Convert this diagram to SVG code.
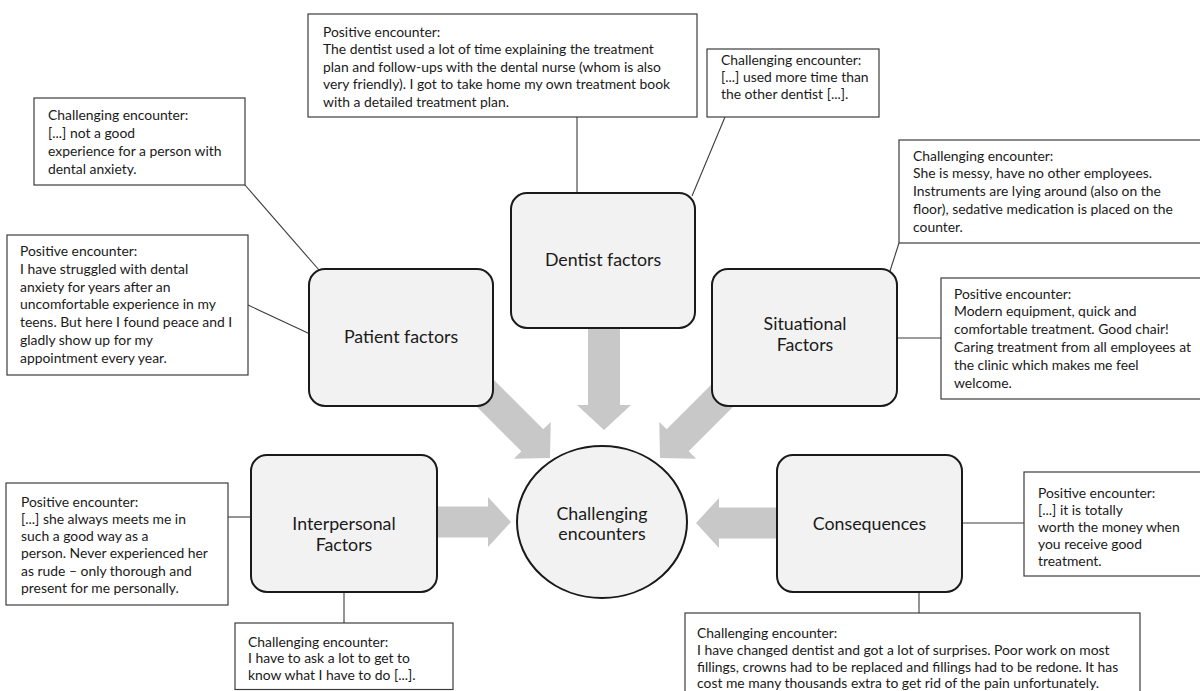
<svg xmlns="http://www.w3.org/2000/svg" width="1200" height="691" viewBox="0 0 1200 691">
<style>
.note{fill:#ffffff;stroke:#3c3c3c;stroke-width:1.2}
.t{font-family:Lato,"Liberation Sans",sans-serif;font-size:13.9px;fill:#1a1a1a}
.node{fill:#f2f2f2;stroke:#1a1a1a;stroke-width:2}
.lbl{font-family:Lato,"Liberation Sans",sans-serif;font-size:17.8px;fill:#1a1a1a;text-anchor:middle}
.link{stroke:#3c3c3c;stroke-width:1.1;fill:none}
.arrow{fill:#c8c8c8}
</style>
<rect width="1200" height="691" fill="#ffffff"/>
<g id="connectors">
<line class="link" x1="245" y1="185" x2="319" y2="270"/>
<line class="link" x1="248" y1="305" x2="310" y2="334"/>
<line class="link" x1="577" y1="117" x2="577" y2="194"/>
<line class="link" x1="725" y1="117" x2="692" y2="196"/>
<line class="link" x1="899" y1="243" x2="890" y2="271"/>
<line class="link" x1="897" y1="338" x2="941" y2="338"/>
<line class="link" x1="228" y1="517" x2="252" y2="517"/>
<line class="link" x1="344" y1="592" x2="344" y2="623"/>
<line class="link" x1="962" y1="523" x2="1024" y2="523"/>
<line class="link" x1="919" y1="592" x2="919" y2="613"/>
<polygon class="arrow" transform="translate(550,458) rotate(45)" points="-100,-15.5 -25,-15.5 -25,-26 0,0 -25,26 -25,15.5 -100,15.5"/>
<polygon class="arrow" transform="translate(604,430) rotate(90)" points="-110,-16 -25,-16 -25,-27 0,0 -25,27 -25,16 -110,16"/>
<polygon class="arrow" transform="translate(660,458) rotate(135)" points="-100,-15.5 -25,-15.5 -25,-26 0,0 -25,26 -25,15.5 -100,15.5"/>
<polygon class="arrow" transform="translate(511,522) rotate(0)" points="-81,-15.5 -23,-15.5 -23,-25 0,0 -23,25 -23,15.5 -81,15.5"/>
<polygon class="arrow" transform="translate(696,523) rotate(180)" points="-89,-15.5 -23,-15.5 -23,-25 0,0 -23,25 -23,15.5 -89,15.5"/>
</g>
<g id="patient-factors">
<rect class="node" x="309" y="269" width="184" height="137" rx="16"/>
<text class="lbl" x="401" y="342.5">Patient factors</text>
</g>
<g id="dentist-factors">
<rect class="node" x="511" y="193" width="184" height="135" rx="16"/>
<text class="lbl" x="603" y="265.5">Dentist factors</text>
</g>
<g id="situational-factors">
<rect class="node" x="712" y="269" width="185" height="137" rx="16"/>
<text class="lbl" x="805" y="330">Situational</text>
<text class="lbl" x="805" y="350.5">Factors</text>
</g>
<g id="interpersonal-factors">
<rect class="node" x="251" y="455" width="186" height="137" rx="16"/>
<text class="lbl" x="344" y="530">Interpersonal</text>
<text class="lbl" x="344" y="550.5">Factors</text>
</g>
<g id="consequences">
<rect class="node" x="777" y="455" width="185" height="137" rx="16"/>
<text class="lbl" x="869.5" y="529.5">Consequences</text>
</g>
<g id="challenging-encounters">
<ellipse class="node" cx="602" cy="522" rx="85" ry="76"/>
<text class="lbl" x="602" y="519.5">Challenging</text>
<text class="lbl" x="602" y="539.5">encounters</text>
</g>
<g id="patient-challenging">
<rect class="note" x="34" y="98" width="211" height="87"/>
<text class="t" x="48" y="119.5">Challenging encounter:</text>
<text class="t" x="48" y="137.5">[...] not a good</text>
<text class="t" x="48" y="155.5">experience for a person with</text>
<text class="t" x="48" y="173.5">dental anxiety.</text>
</g>
<g id="patient-positive">
<rect class="note" x="7" y="235" width="241" height="140"/>
<text class="t" x="20" y="256">Positive encounter:</text>
<text class="t" x="20" y="273.8">I have struggled with dental</text>
<text class="t" x="20" y="291.6">anxiety for years after an</text>
<text class="t" x="20" y="309.4">uncomfortable experience in my</text>
<text class="t" x="20" y="327.2">teens. But here I found peace and I</text>
<text class="t" x="20" y="345">gladly show up for my</text>
<text class="t" x="20" y="362.8">appointment every year.</text>
</g>
<g id="dentist-positive">
<rect class="note" x="308" y="14" width="389" height="103"/>
<text class="t" x="323" y="36.5">Positive encounter:</text>
<text class="t" x="323" y="54">The dentist used a lot of time explaining the treatment</text>
<text class="t" x="323" y="71.5">plan and follow-ups with the dental nurse (whom is also</text>
<text class="t" x="323" y="89">very friendly). I got to take home my own treatment book</text>
<text class="t" x="323" y="106.5">with a detailed treatment plan.</text>
</g>
<g id="dentist-challenging">
<rect class="note" x="707" y="49" width="172" height="68"/>
<text class="t" x="721" y="64.5">Challenging encounter:</text>
<text class="t" x="721" y="82">[...] used more time than</text>
<text class="t" x="721" y="99">the other dentist [...].</text>
</g>
<g id="situational-challenging">
<rect class="note" x="899" y="140" width="310" height="103"/>
<text class="t" x="913" y="160.5">Challenging encounter:</text>
<text class="t" x="913" y="178.3">She is messy, have no other employees.</text>
<text class="t" x="913" y="196.1">Instruments are lying around (also on the</text>
<text class="t" x="913" y="213.9">floor), sedative medication is placed on the</text>
<text class="t" x="913" y="231.7">counter.</text>
</g>
<g id="situational-positive">
<rect class="note" x="941" y="278" width="268" height="121"/>
<text class="t" x="954" y="298.5">Positive encounter:</text>
<text class="t" x="954" y="316.3">Modern equipment, quick and</text>
<text class="t" x="954" y="334.1">comfortable treatment. Good chair!</text>
<text class="t" x="954" y="351.9">Caring treatment from all employees at</text>
<text class="t" x="954" y="369.7">the clinic which makes me feel</text>
<text class="t" x="954" y="387.5">welcome.</text>
</g>
<g id="interpersonal-positive">
<rect class="note" x="6" y="483" width="222" height="122"/>
<text class="t" x="21" y="506.5">Positive encounter:</text>
<text class="t" x="21" y="523.8">[...] she always meets me in</text>
<text class="t" x="21" y="541.1">such a good way as a</text>
<text class="t" x="21" y="558.4">person. Never experienced her</text>
<text class="t" x="21" y="575.7">as rude – only thorough and</text>
<text class="t" x="21" y="593">present for me personally.</text>
</g>
<g id="interpersonal-challenging">
<rect class="note" x="235" y="623" width="218" height="66.5"/>
<text class="t" x="248" y="646.5">Challenging encounter:</text>
<text class="t" x="248" y="663">I have to ask a lot to get to</text>
<text class="t" x="248" y="679.5">know what I have to do [...].</text>
</g>
<g id="consequences-positive">
<rect class="note" x="1024" y="472" width="185" height="104"/>
<text class="t" x="1038" y="497.5">Positive encounter:</text>
<text class="t" x="1038" y="514.5">[...] it is totally</text>
<text class="t" x="1038" y="531.5">worth the money when</text>
<text class="t" x="1038" y="548.5">you receive good</text>
<text class="t" x="1038" y="565.5">treatment.</text>
</g>
<g id="consequences-challenging">
<rect class="note" x="685" y="613" width="455" height="90"/>
<text class="t" x="697" y="637.5">Challenging encounter:</text>
<text class="t" x="697" y="654.5">I have changed dentist and got a lot of surprises. Poor work on most</text>
<text class="t" x="697" y="671.5">fillings, crowns had to be replaced and fillings had to be redone. It has</text>
<text class="t" x="697" y="688">cost me many thousands extra to get rid of the pain unfortunately.</text>
</g>
</svg>
